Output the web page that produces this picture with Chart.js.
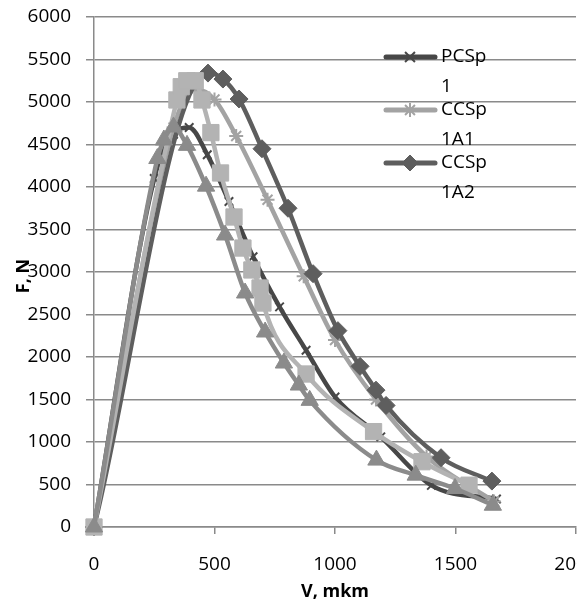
<!DOCTYPE html>
<html>
<head>
<meta charset="utf-8">
<script src="https://cdn.jsdelivr.net/npm/chart.js@4/dist/chart.umd.min.js"></script>
<style>
  html, body { margin: 0; padding: 0; background: #fff; overflow: hidden; }
  #wrap { width: 600px; height: 603px; }
</style>
</head>
<body>
<div id="wrap"><canvas id="chart" width="600" height="603"></canvas></div>
<script>
// Series values (V in mkm, F in N)
const pcsp1X = [0, 250, 330, 395, 470, 560, 660, 770, 880, 1000, 1190, 1400, 1670];
const pcsp1Y = [0, 4100, 4620, 4700, 4380, 3830, 3180, 2590, 2080, 1530, 1060, 490, 330];

const ccsp1a1X = [0, 330, 420, 500, 590, 720, 870, 1000, 1170, 1380, 1660];
const ccsp1a1Y = [0, 4700, 5150, 5030, 4600, 3850, 2950, 2200, 1500, 830, 300];

const ccsp1a2X = [0, 473, 535, 602, 697, 805, 909, 1012, 1104, 1170, 1212, 1440, 1651];
const ccsp1a2Y = [0, 5340, 5270, 5035, 4450, 3750, 2980, 2310, 1890, 1610, 1430, 815, 540];

const series4X = [0, 344, 362, 385, 420, 448, 485, 525, 581, 618, 655, 689, 701, 880, 1160, 1361, 1556];
const series4Y = [0, 5024, 5180, 5250, 5250, 5024, 4640, 4165, 3647, 3282, 3024, 2812, 2635, 1800, 1122, 768, 492];

const series5X = [0, 263, 290, 330, 386, 465, 544, 627, 710, 788, 850, 895, 1172, 1335, 1498, 1655];
const series5Y = [0, 4335, 4553, 4706, 4490, 4010, 3435, 2753, 2294, 1929, 1670, 1490, 787, 610, 453, 256];

const seriesNames = ['PCSp 1', 'CCSp 1A1', 'CCSp 1A2', 'Series4', 'Series5'];
const legendLines = [['PCSp', '1'], ['CCSp', '1A1'], ['CCSp', '1A2']];

const xTicks = [0, 500, 1000, 1500, 2000];
const yTicks = [0, 500, 1000, 1500, 2000, 2500, 3000, 3500, 4000, 4500, 5000, 5500, 6000];

const FONT = '"Open Sans", "DejaVu Sans", sans-serif';
const GRID = '#8a8a8a';

function toPoints(xs, ys) {
    return xs.map((x, i) => ({ x: x, y: ys[i] }));
}

function makeSet(label, xs, ys, color, style, radius, order) {
    return {
        label: label,
        data: toPoints(xs, ys),
        showLine: true,
        clip: false,
        borderColor: color,
        backgroundColor: color,
        borderWidth: 4.5,
        cubicInterpolationMode: 'monotone',
        pointStyle: style,
        pointRadius: radius,
        pointHoverRadius: radius,
        pointBorderColor: color,
        pointBackgroundColor: color,
        pointBorderWidth: style === 'crossRot' || style === 'star' ? 2 : 1,
        order: order
    };
}

// Draws the in-plot legend and the y axis title the way the original does
const overlayPlugin = {
    id: 'overlay',
    afterDraw(chart) {
        const ctx = chart.ctx;
        ctx.save();

        // legend
        const rows = [57, 110, 163];
        legendLines.forEach((lines, i) => {
            const ds = chart.data.datasets[i];
            const y = rows[i];
            ctx.strokeStyle = ds.borderColor;
            ctx.lineWidth = 5;
            ctx.lineCap = 'round';
            ctx.beginPath();
            ctx.moveTo(386, y);
            ctx.lineTo(435, y);
            ctx.stroke();
            ctx.lineCap = 'butt';
            ctx.fillStyle = ds.pointBackgroundColor;
            ctx.strokeStyle = ds.pointBorderColor;
            ctx.lineWidth = ds.pointBorderWidth;
            Chart.helpers.drawPoint(ctx, {
                pointStyle: ds.pointStyle,
                radius: ds.pointStyle === 'rectRot' ? 8 : 7,
                rotation: 0,
                borderWidth: ds.pointBorderWidth
            }, 410, y);

            ctx.fillStyle = '#000';
            ctx.font = '19px ' + FONT;
            ctx.textAlign = 'left';
            ctx.textBaseline = 'middle';
            ctx.fillText(lines[0], 441, y);
            ctx.fillText(lines[1], 441, y + 30);
        });

        // y axis title (sits over the tick labels as in the original)
        ctx.translate(24, 276);
        ctx.rotate(-Math.PI / 2);
        ctx.font = 'bold 18px ' + FONT;
        ctx.fillStyle = '#000';
        ctx.textAlign = 'center';
        ctx.textBaseline = 'middle';
        ctx.fillText('F, N', 0, 0);
        ctx.restore();
    }
};

class ForceChart {
    constructor() {
        this.init();
    }

    init() {
        const ctx = document.getElementById('chart');
        new Chart(ctx, {
            type: 'scatter',
            data: { datasets: this.buildDatasets() },
            options: this.buildOptions(),
            plugins: [overlayPlugin]
        });
    }

    buildDatasets() {
        return [
            makeSet(seriesNames[0], pcsp1X, pcsp1Y, '#474747', 'crossRot', 6, 5),
            makeSet(seriesNames[1], ccsp1a1X, ccsp1a1Y, '#a3a3a3', 'star', 7, 4),
            makeSet(seriesNames[2], ccsp1a2X, ccsp1a2Y, '#5e5e5e', 'rectRot', 9, 3),
            makeSet(seriesNames[3], series4X, series4Y, '#b3b3b3', 'rect', 11.5, 2),
            makeSet(seriesNames[4], series5X, series5Y, '#8b8b8b', 'triangle', 10, 1)
        ];
    }

    buildOptions() {
        return {
            responsive: false,
            animation: false,
            devicePixelRatio: 1,
            layout: { padding: { top: 17, right: 24, left: 0, bottom: 0 } },
            plugins: {
                legend: { display: false },
                tooltip: { enabled: false }
            },
            scales: {
                x: {
                    type: 'linear',
                    min: 0,
                    max: 2000,
                    afterBuildTicks: scale => { scale.ticks = xTicks.map(v => ({ value: v })); },
                    afterFit: scale => {
                        scale.height = 76;
                        scale.paddingLeft = 0;
                        scale.paddingRight = 0;
                    },
                    grid: { drawOnChartArea: false, drawTicks: true, tickLength: 7, color: GRID, lineWidth: 1.5 },
                    border: { color: GRID, width: 1.5 },
                    ticks: { color: '#000', padding: 19, font: { family: FONT, size: 19 }, callback: v => String(v) },
                    title: {
                        display: true,
                        text: 'V, mkm',
                        color: '#000',
                        padding: { top: 0, bottom: 0 },
                        font: { family: FONT, size: 18, weight: 'bold' }
                    }
                },
                y: {
                    type: 'linear',
                    min: 0,
                    max: 6000,
                    afterBuildTicks: scale => { scale.ticks = yTicks.map(v => ({ value: v })); },
                    afterFit: scale => {
                        scale.width = 94;
                        scale.paddingTop = 0;
                        scale.paddingBottom = 0;
                    },
                    grid: { color: GRID, lineWidth: 1.5, tickLength: 8 },
                    border: { color: GRID, width: 1.5 },
                    ticks: { color: '#000', padding: 15, font: { family: FONT, size: 19 }, callback: v => String(v) }
                }
            }
        };
    }
}

const forceChart = new ForceChart();
</script>
</body>
</html>
